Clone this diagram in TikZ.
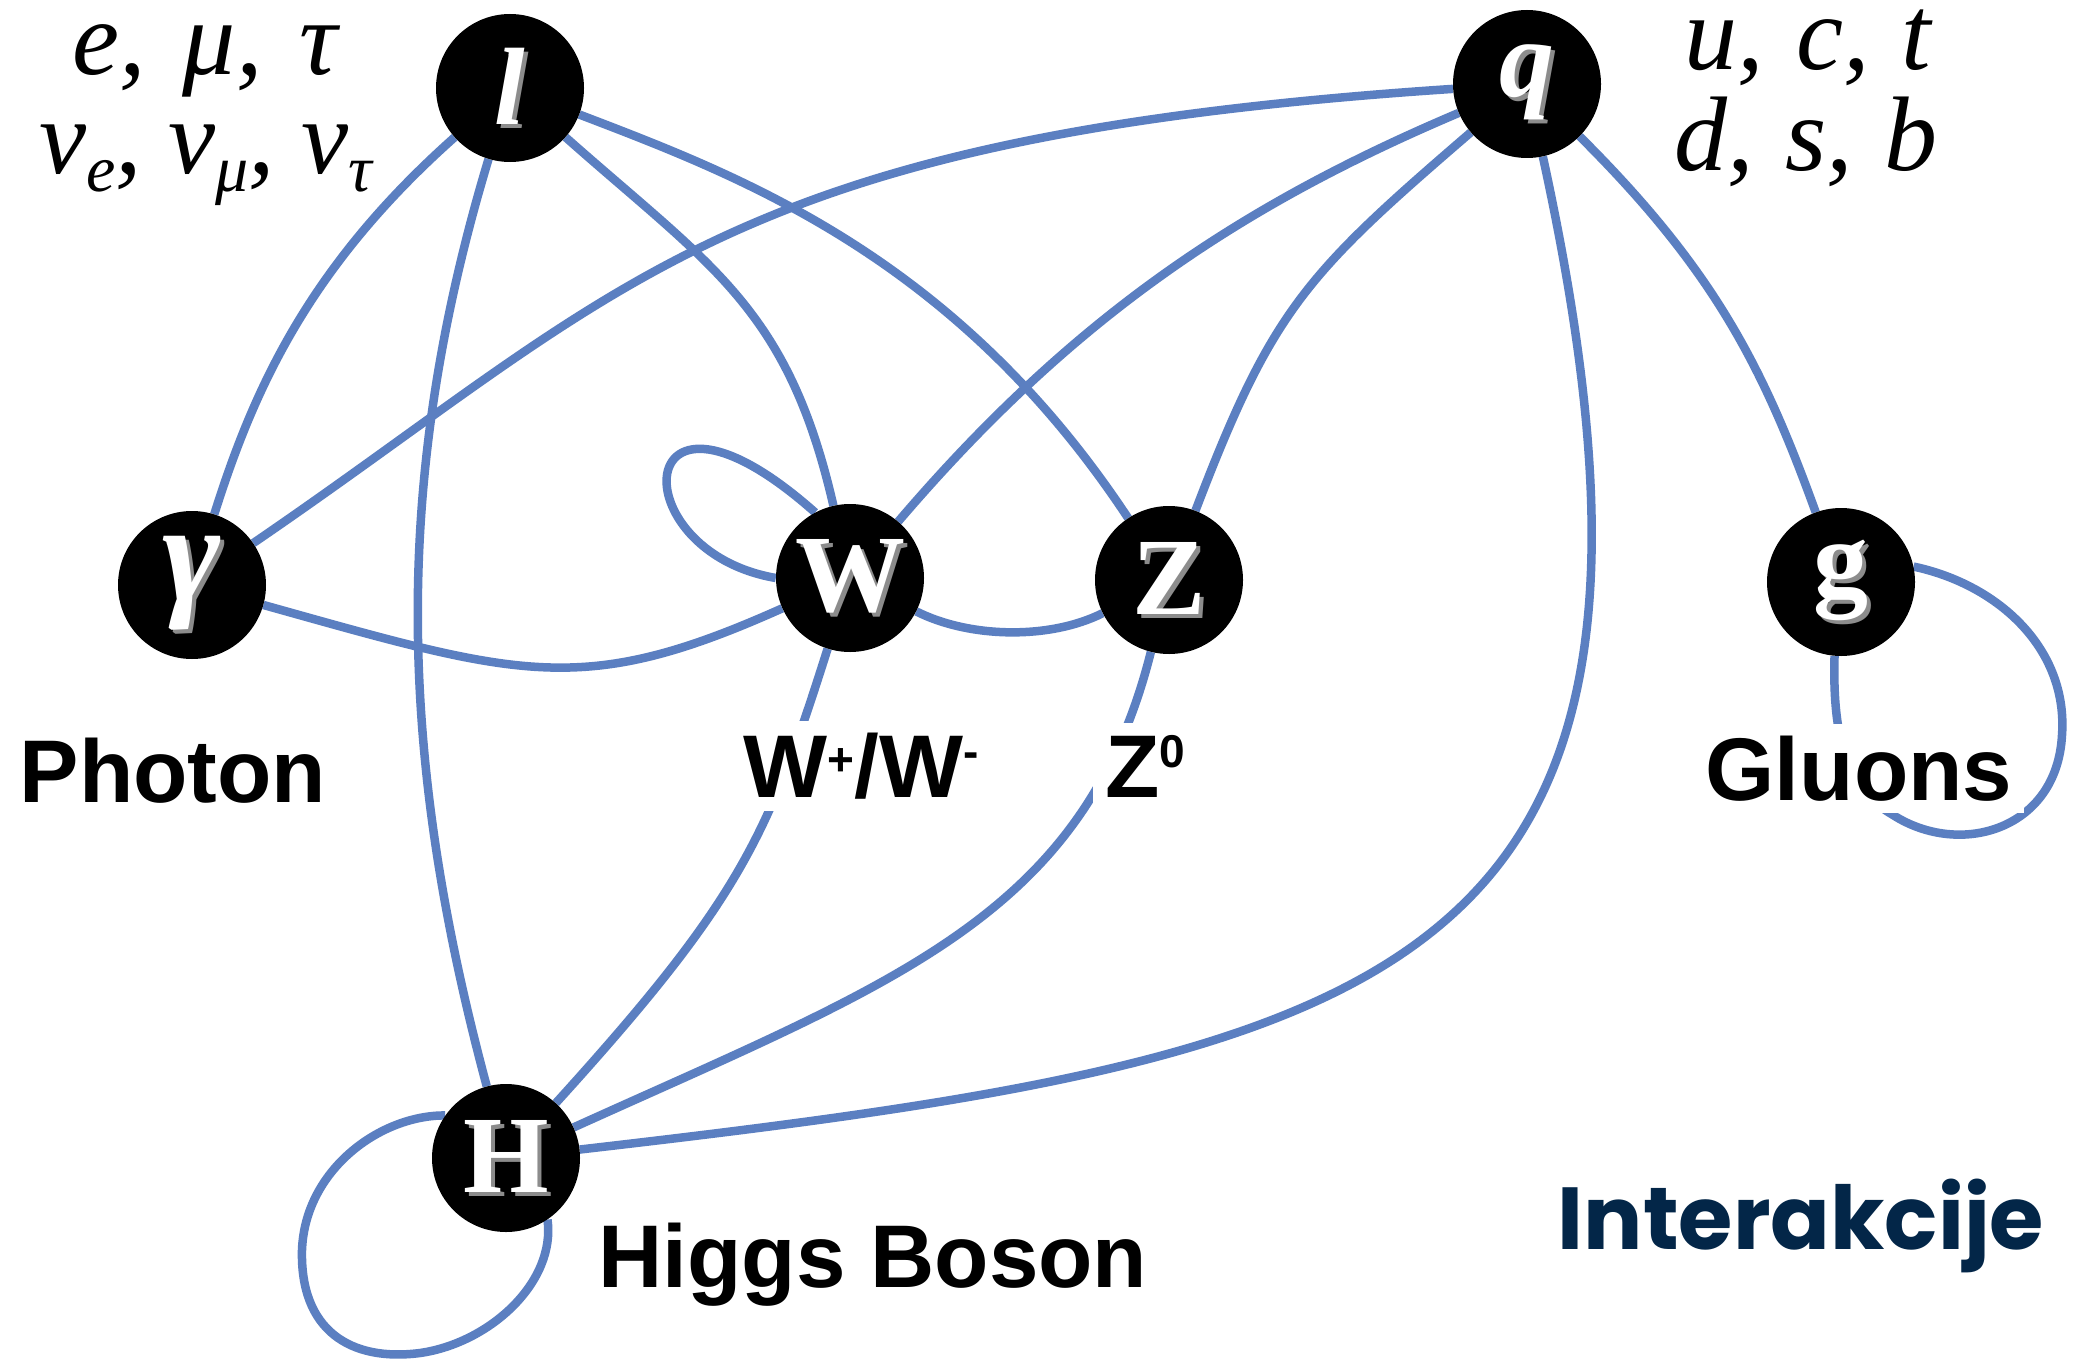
\documentclass[tikz,border=0pt]{standalone}
\usepackage{fontspec}
\setmainfont{Liberation Serif}
\newfontfamily\arialb{Liberation Sans}
\newfontfamily\popb{Poppins}
\usetikzlibrary{backgrounds}
\definecolor{edgeblue}{RGB}{91,127,193}
\definecolor{navy}{RGB}{3,38,72}
\newcommand\emb[1]{\makebox[0pt][l]{\hspace{4pt}\raisebox{-4pt}{\textcolor{black!45}{#1}}}\textcolor{white}{#1}}
\newcommand\sps[2]{\raisebox{#1}{\fontsize{46}{46}\selectfont #2}}
\newcommand\sbs[1]{\raisebox{-18pt}{\fontsize{66}{66}\selectfont #1}}
\begin{document}
\begin{tikzpicture}[x=1pt,y=-1pt,
  particle/.style={circle,fill=black,minimum size=148pt,inner sep=0pt,font=\fontsize{110}{110}\selectfont\bfseries},
  link/.style={draw=edgeblue,line width=8.5pt},
  lbl/.style={font=\arialb\fontsize{89}{89}\selectfont\bfseries,anchor=base,inner sep=0pt},
  cover/.style={lbl,fill=white,inner sep=12pt},
  gen/.style={font=\fontsize{106}{106}\selectfont\itshape,anchor=base,inner sep=0pt,text height=60pt}]
\useasboundingbox (0,0) rectangle (2080,1362);
% particles
\node[particle] (l) at (510,88) {\emb{\itshape l}};
\node[particle] (q) at (1527,84) {\emb{\itshape q}};
\node[particle] (ga) at (192,585) {\fontsize{140}{140}\selectfont\emb{\itshape γ}};
\node[particle] (W) at (850,578) {\emb{W}};
\node[particle] (Z) at (1169,580) {\emb{Z}};
\node[particle] (g) at (1841,582) {\emb{g}};
\node[particle] (H) at (506,1158) {\emb{H}};
% connectors
\begin{scope}[on background layer]
\fill[white] (0,0) rectangle (2080,1362);
\draw[link] (l) .. controls (311,265) and (255,385) .. (ga);
\draw[link] (l) .. controls (391,482) and (398,756) .. (H);
\draw[link] (l) .. controls (712,267) and (788,308) .. (W);
\draw[link] (l) .. controls (740,176) and (955,256) .. (Z);
\draw[link] (q) .. controls (724,137) and (628,287) .. (ga);
\draw[link] (q) .. controls (1239,206) and (1072,318) .. (W);
\draw[link] (q) .. controls (1305,275) and (1272,310) .. (Z);
\draw[link] (q) .. controls (1722,978) and (1410,1054) .. (H);
\draw[link] (q) .. controls (1715,271) and (1763,367) .. (g);
\draw[link] (ga) .. controls (521,677) and (582,698) .. (W);
\draw[link] (W) .. controls (969,638) and (1049,640) .. (Z);
\draw[link] (W) .. controls (768,837) and (740,900) .. (H);
\draw[link] (Z) .. controls (1084,917) and (897,981) .. (H);
\draw[link] (W.118) .. controls (630,348) and (619,551) .. (W.180);
\draw[link] (g.12) .. controls (2000,585) and (2068,650) .. (2062,735)
  .. controls (2057,830) and (1960,858) .. (1893,815)
  .. controls (1850,790) and (1832,745) .. (g.265);
\draw[link] (H.145) .. controls (380,1115) and (305,1170) .. (302,1250)
  .. controls (300,1330) and (350,1362) .. (420,1353)
  .. controls (490,1343) and (556,1282) .. (H.-56);
\end{scope}
% labels
\node[lbl] (phl) at (173,802) {Photon};
\node[cover] (wl) at (861,797) {W\sps{22pt}{+}/W\sps{30pt}{-}};
\node[cover] (zl) at (1145,797) {Z\sps{30pt}{0}};
\node[cover] (gl) at (1859,800) {Gluons};
\node[lbl] (hl) at (873,1287) {Higgs Boson};
\node[font=\popb\fontsize{88}{88}\selectfont\bfseries,text=navy,anchor=base,inner sep=0pt] (intl) at (1801,1249) {Interakcije};
\node[gen] (lep1) at (205,75) {e,\hspace{0.35em}μ,\hspace{0.35em}τ};
\node[gen] (lep2) at (206,173) {ν\sbs{e}, ν\sbs{μ}, ν\sbs{τ}};
\node[gen] (qk1) at (1808,70) {u,\hspace{0.3em}c,\hspace{0.3em}t};
\node[gen] (qk2) at (1806,170) {d,\hspace{0.3em}s,\hspace{0.3em}b};
\end{tikzpicture}
\end{document}
